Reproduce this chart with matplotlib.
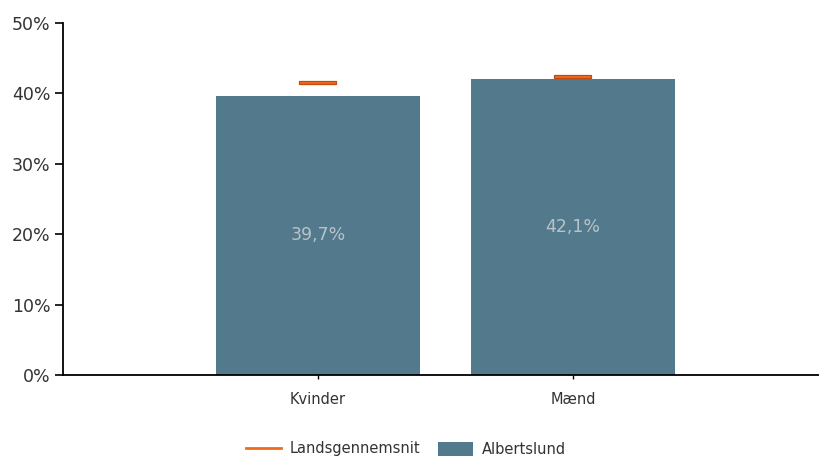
import matplotlib.pyplot as plt
import numpy as np
from matplotlib.lines import Line2D
from matplotlib.patches import Patch

categories = ["Kvinder", "Mænd"]
albertslund = [39.7, 42.1]
landsgennemsnit = [41.5, 42.4]
y_ticks = [0, 10, 20, 30, 40, 50]

bar_color = "#537a8c"
avg_color = "#f26a1e"
avg_edge = "#c04a10"
text_color = "#333333"

fig = plt.figure(figsize=(8.19, 4.59), dpi=100)
ax = fig.add_axes([63 / 819, 1 - 375 / 459, 1 - 63 / 819, (375 - 23) / 459])

pos = np.arange(len(categories))
ax.bar(pos, albertslund, width=0.8, color=bar_color, zorder=2)
ax.bar(pos, 0.4, bottom=np.array(landsgennemsnit) - 0.2, width=0.145,
       color=avg_color, edgecolor=avg_edge, linewidth=0.9, zorder=3)

for x, v in zip(pos, albertslund):
    ax.text(x, v / 2, f"{v:.1f}%".replace(".", ","), ha="center", va="center",
            fontsize=12.5, color="#b8c3c9", zorder=4)

ax.set_xlim(-1.0, 1.965)
ax.set_ylim(0, 50)
ax.set_yticks(y_ticks)
ax.set_yticklabels([f"{t}%" for t in y_ticks], fontsize=12.5, color=text_color)
ax.set_xticks(pos)
ax.set_xticklabels(categories, fontsize=10.5, color=text_color)
ax.tick_params(axis="y", length=6, width=1.2, pad=3)
ax.tick_params(axis="x", length=3, width=1, pad=9)

for s in ["top", "right"]:
    ax.spines[s].set_visible(False)
ax.spines["left"].set_linewidth(1.3)
ax.spines["bottom"].set_linewidth(1.3)

handles = [Line2D([0], [0], color=avg_color, lw=2),
           Patch(facecolor=bar_color)]
fig.legend(handles, ["Landsgennemsnit", "Albertslund"], loc="center",
           bbox_to_anchor=(0.496, 1 - 449 / 459), ncol=2, frameon=False,
           fontsize=10.5, handlelength=2.4, handleheight=1.1,
           columnspacing=1.2, handletextpad=0.6, labelcolor=text_color)

fig.savefig("out.png", dpi=100)
